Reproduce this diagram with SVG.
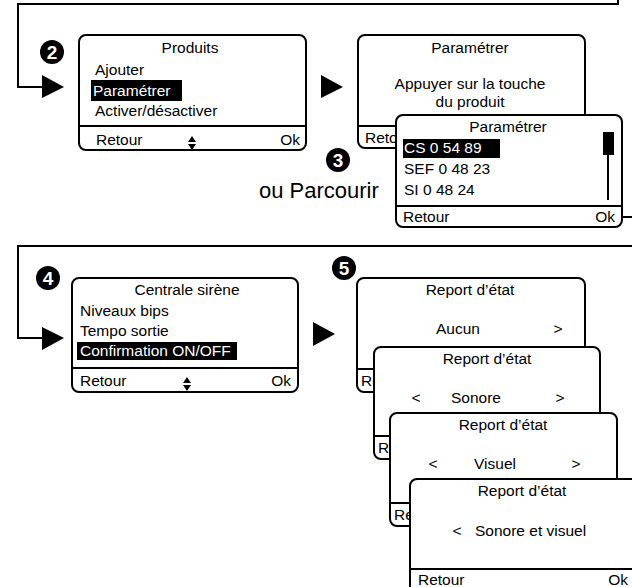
<svg xmlns="http://www.w3.org/2000/svg" width="632" height="587" viewBox="0 0 632 587">
<style>
text{font-family:"Liberation Sans",Arial,sans-serif;font-size:15.5px;fill:#000}
.m{text-anchor:middle}
.e{text-anchor:end}
.inv{fill:#fff}
.box{fill:#fff;stroke:#000;stroke-width:2}
.sep{stroke:#000;stroke-width:2}
.ln{fill:none;stroke:#000;stroke-width:2}
.badge circle{fill:#000}
.badge text{fill:#fff;font-weight:bold;font-size:19px;text-anchor:middle}
</style>
<g id="connectors">
<polyline class="ln" points="618,0 618,4 18,4 18,87 44,87"/>
<polygon points="42,75 64,87 42,98"/>
<polygon points="321,75 343,87 321,98"/>
<line class="ln" x1="622" y1="217" x2="632" y2="217"/>
<polyline class="ln" points="632,246 18,246 18,338 44,338"/>
<polygon points="42,327 64,338 42,350"/>
<polygon points="313,322 335,334 313,346"/>
</g>
<g id="badge2" class="badge"><circle cx="52" cy="52" r="12"/><text x="52" y="59">2</text></g>
<g id="badge3" class="badge"><circle cx="338" cy="160" r="12"/><text x="338" y="167">3</text></g>
<g id="badge4" class="badge"><circle cx="48" cy="278" r="12"/><text x="48" y="285">4</text></g>
<g id="badge5" class="badge"><circle cx="344" cy="268" r="12"/><text x="344" y="275">5</text></g>
<g id="produits">
<rect class="box" x="79" y="35" width="227" height="115" rx="7"/>
<line class="sep" x1="79" y1="126" x2="306" y2="126"/>
<text class="m" x="190" y="53">Produits</text>
<text x="95" y="75">Ajouter</text>
<rect x="91" y="80" width="91" height="21"/>
<text class="inv" x="93" y="96">Paramétrer</text>
<text x="95" y="116">Activer/désactiver</text>
<text x="96" y="145">Retour</text>
<polygon points="188,142 192,136 196,142"/>
<polygon points="188,144 196,144 192,150"/>
<text class="e" x="300" y="145">Ok</text>
</g>
<g id="parametrer1">
<rect class="box" x="358" y="35" width="227" height="113" rx="7"/>
<line class="sep" x1="358" y1="126" x2="585" y2="126"/>
<text class="m" x="470" y="53">Paramétrer</text>
<text class="m" x="470" y="89">Appuyer sur la touche</text>
<text class="m" x="470" y="107">du produit</text>
<text x="365" y="143">Retour</text>
</g>
<text x="259" y="198" style="font-size:22px">ou Parcourir</text>
<g id="parametrer2">
<rect class="box" x="396" y="115" width="226" height="112" rx="7"/>
<line class="sep" x1="396" y1="206" x2="622" y2="206"/>
<text class="m" x="508" y="132">Paramétrer</text>
<rect x="403" y="139" width="97" height="19"/>
<text class="inv" x="404" y="153">CS 0 54 89</text>
<text x="404" y="174">SEF 0 48 23</text>
<text x="404" y="195">SI 0 48 24</text>
<line class="sep" x1="608" y1="140" x2="608" y2="200"/>
<rect x="603" y="132" width="11" height="23"/>
<text x="403" y="222">Retour</text>
<text class="e" x="615" y="222">Ok</text>
</g>
<g id="centrale">
<rect class="box" x="72" y="278" width="226" height="114" rx="7"/>
<line class="sep" x1="72" y1="368" x2="298" y2="368"/>
<text class="m" x="187" y="295">Centrale sirène</text>
<text x="80" y="316">Niveaux bips</text>
<text x="80" y="336">Tempo sortie</text>
<rect x="77" y="342" width="160" height="18"/>
<text class="inv" x="80" y="356">Confirmation ON/OFF</text>
<text x="80" y="386">Retour</text>
<polygon points="183,383 187,377 191,383"/>
<polygon points="183,385 191,385 187,391"/>
<text class="e" x="291" y="386">Ok</text>
</g>
<g id="report1">
<rect class="box" x="357" y="278" width="228" height="114" rx="7"/>
<line class="sep" x1="357" y1="369" x2="585" y2="369"/>
<text class="m" x="470" y="295">Report d’état</text>
<text class="m" x="458" y="334">Aucun</text>
<text class="m" x="558" y="334">&gt;</text>
<text x="361" y="386">Retour</text>
</g>
<g id="report2">
<rect class="box" x="374" y="347" width="226" height="112" rx="7"/>
<line class="sep" x1="374" y1="436" x2="600" y2="436"/>
<text class="m" x="487" y="364">Report d’état</text>
<text class="m" x="416" y="403">&lt;</text>
<text class="m" x="476" y="403">Sonore</text>
<text class="m" x="560" y="403">&gt;</text>
<text x="378" y="453">Retour</text>
</g>
<g id="report3">
<rect class="box" x="390" y="413" width="227" height="113" rx="7"/>
<line class="sep" x1="390" y1="503" x2="617" y2="503"/>
<text class="m" x="503" y="430">Report d’état</text>
<text class="m" x="433" y="469">&lt;</text>
<text class="m" x="495" y="469">Visuel</text>
<text class="m" x="576" y="469">&gt;</text>
<text x="394" y="520">Retour</text>
</g>
<g id="report4">
<rect class="box" x="410" y="479" width="228" height="114" rx="7"/>
<line class="sep" x1="410" y1="569" x2="638" y2="569"/>
<text class="m" x="522" y="496">Report d’état</text>
<text class="m" x="457" y="536">&lt;</text>
<text x="475" y="536">Sonore et visuel</text>
<text x="418" y="585">Retour</text>
<text class="e" x="628" y="585">Ok</text>
</g>
</svg>
